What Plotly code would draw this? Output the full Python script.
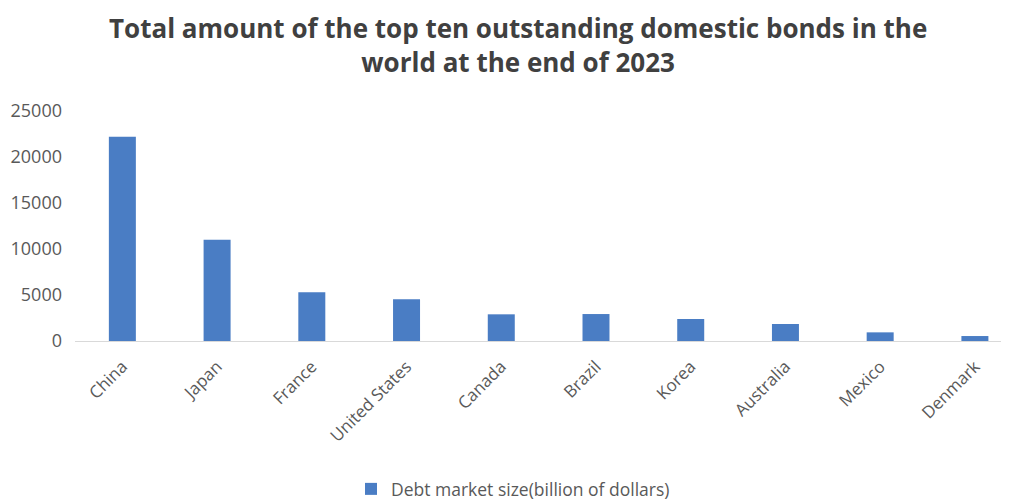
import plotly.graph_objects as go

countries = ["China", "Japan", "France", "United States", "Canada",
             "Brazil", "Korea", "Australia", "Mexico", "Denmark"]
debt_size = [22200, 11000, 5300, 4550, 2900, 2930, 2390, 1850, 940, 540]
series_name = "Debt market size(billion of dollars)"
y_ticks = [0, 5000, 10000, 15000, 20000, 25000]
title_text = "<b>Total amount of the top ten outstanding domestic bonds in the<br>world at the end of 2023</b>"

FONT = "Open Sans, Noto Sans, sans-serif"
W, H = 1001, 493          # page body has an 8px margin
L, T, B = 67, 103, 160
PW = W - L
PH = H - T - B
plot_bottom = H - B

fig = go.Figure()
fig.add_trace(go.Bar(
    x=countries, y=debt_size, name=series_name,
    marker=dict(color="#4a7dc4", line=dict(width=0)),
    width=0.285,
    showlegend=True,
))

fig.add_annotation(
    text=title_text, xref="paper", yref="paper",
    x=(510 - L) / PW, y=plot_bottom / PH,
    xanchor="center", yanchor="top", showarrow=False,
    font=dict(family=FONT, size=26, color="#404040"),
)

fig.update_layout(
    width=W, height=H,
    paper_bgcolor="white", plot_bgcolor="white",
    margin=dict(l=L, r=0, t=T, b=B, autoexpand=False),
    font=dict(family=FONT, size=17, color="#595959"),
    xaxis=dict(
        range=[-0.5, 9.36],
        tickangle=-45,
        automargin=False,
        showline=True, linecolor="#d9d9d9", linewidth=1,
        ticks="", showgrid=False, ticklabelstandoff=8,
        tickfont=dict(size=17, color="#595959"),
    ),
    yaxis=dict(
        range=[0, 25000],
        tickvals=y_ticks,
        ticktext=[str(v) for v in y_ticks],
        automargin=False,
        showgrid=False, zeroline=False, showline=False,
        ticks="", ticklen=0, ticklabelstandoff=12,
        tickfont=dict(size=18, color="#595959"),
    ),
    legend=dict(
        orientation="h", x=(505 - L) / PW, xanchor="center",
        y=-(481 - plot_bottom) / PH, yanchor="middle",
        font=dict(size=17.5, color="#595959"),
    ),
)

fig.write_html("out.html")
